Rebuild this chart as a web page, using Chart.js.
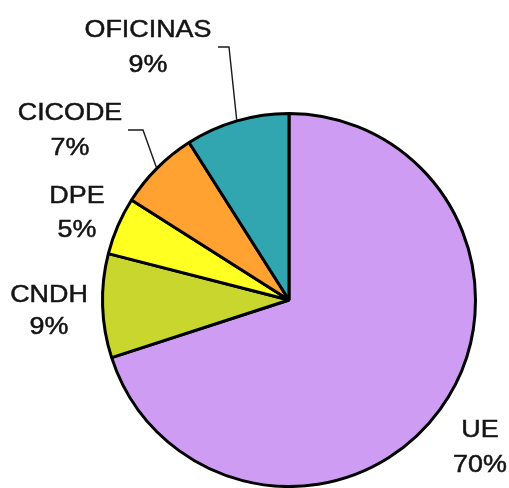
<!DOCTYPE html>
<html>
<head>
<meta charset="utf-8">
<script src="https://cdn.jsdelivr.net/npm/chart.js@4"></script>
<style>
  html, body { margin: 0; padding: 0; background: #ffffff; }
  #wrap { width: 509px; height: 488px; position: relative; }
</style>
</head>
<body>
<div id="wrap"><canvas id="c" width="509" height="488"></canvas></div>
<script>
// ---- data ----
const categories = ["UE", "CNDH", "DPE", "CICODE", "OFICINAS"];
const values = [70, 9, 5, 7, 9];
const percentLabels = ["70%", "9%", "5%", "7%", "9%"];

// ---- styles / layout (not data) ----
const sliceColors = ["#CE9CF2", "#C8D62E", "#FFFF22", "#FFA232", "#32A6B0"];
// label text centre x, first-line baseline, line gap; optional leader knee (x1,y -> x2,y -> arc mid)
const labelLayout = [
  { x: 480, y: 437, gap: 35 },
  { x: 49,  y: 302, gap: 32 },
  { x: 77,  y: 203, gap: 34 },
  { x: 70,  y: 120, gap: 35, leader: [128, 130, 143] },
  { x: 148, y: 37,  gap: 35, leader: [218, 47, 229] }
];

const labelPlugin = {
  id: 'outsideLabels',
  afterDatasetsDraw(chart) {
    const ctx = chart.ctx;
    const meta = chart.getDatasetMeta(0);
    ctx.save();
    meta.data.forEach((arc, i) => {
      const p = arc.getProps(['x', 'y', 'startAngle', 'endAngle', 'outerRadius'], true);
      const L = labelLayout[i];
      if (L.leader) {
        const mid = (p.startAngle + p.endAngle) / 2;
        const ex = p.x + Math.cos(mid) * (p.outerRadius + 1);
        const ey = p.y + Math.sin(mid) * (p.outerRadius + 1);
        ctx.beginPath();
        ctx.strokeStyle = '#1a1a1a';
        ctx.lineWidth = 1.4;
        ctx.moveTo(L.leader[0], L.leader[1]);
        ctx.lineTo(L.leader[2], L.leader[1]);
        ctx.lineTo(ex, ey);
        ctx.stroke();
      }
      ctx.fillStyle = '#141414';
      ctx.strokeStyle = '#141414';
      ctx.lineWidth = 0.5;
      ctx.font = '24px "Liberation Sans", Arial, sans-serif';
      ctx.textAlign = 'center';
      ctx.textBaseline = 'alphabetic';
      [categories[i], percentLabels[i]].forEach((t, k) => {
        ctx.save();
        ctx.translate(L.x, L.y + k * L.gap);
        ctx.scale(1.12, 1);
        ctx.fillText(t, 0, 0);
        ctx.strokeText(t, 0, 0);
        ctx.restore();
      });
    });
    ctx.restore();
  }
};

new Chart(document.getElementById('c'), {
  type: 'pie',
  data: {
    labels: categories,
    datasets: [{
      data: values,
      backgroundColor: sliceColors,
      borderColor: '#000000',
      borderWidth: 3,
      radius: 186.5
    }]
  },
  options: {
    responsive: false,
    animation: false,
    rotation: 0,
    layout: { padding: { left: 100, right: 31, top: 114, bottom: 2 } },
    plugins: {
      legend: { display: false },
      tooltip: { enabled: false }
    }
  },
  plugins: [labelPlugin]
});
</script>
</body>
</html>
